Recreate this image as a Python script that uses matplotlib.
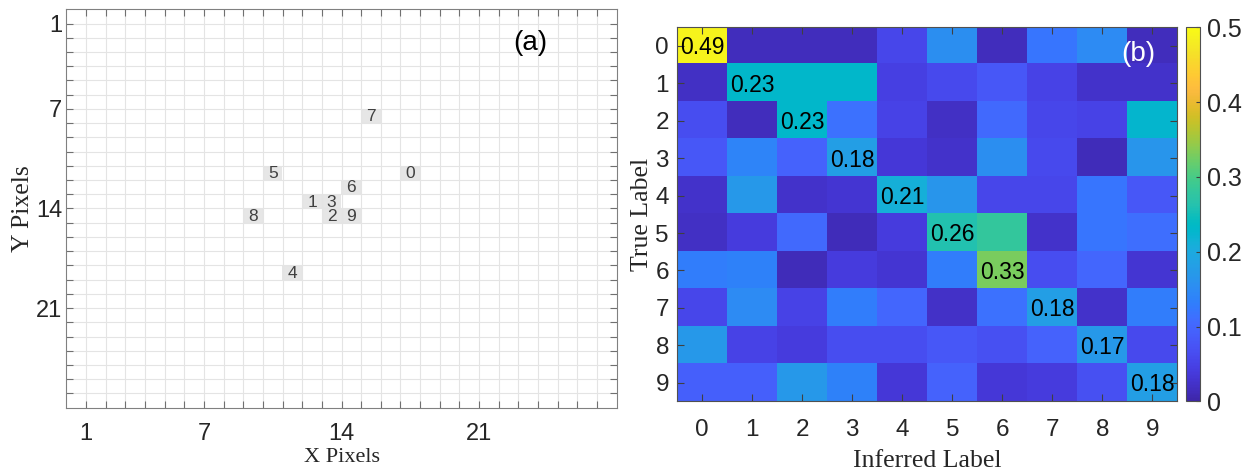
import numpy as np
import matplotlib
matplotlib.use('Agg')
import matplotlib.pyplot as plt
from matplotlib.colors import LinearSegmentedColormap

plt.rcParams['font.family'] = ['Liberation Sans', 'DejaVu Sans']

# panel (a): where each digit's pixel sits on the 28x28 grid
digits = ['0', '1', '2', '3', '4', '5', '6', '7', '8', '9']
pix_x = [17, 12, 13, 13, 11, 10, 14, 15, 9, 14]
pix_y = [11, 13, 14, 13, 18, 11, 12, 7, 14, 14]
grid_size = 28
pix_ticks = [1, 7, 14, 21]

# panel (b): confusion matrix, rows = true label, cols = inferred label
class_labels = ['0', '1', '2', '3', '4', '5', '6', '7', '8', '9']
row0 = [0.49, 0.015, 0.015, 0.015, 0.055, 0.155, 0.015, 0.12, 0.15, 0.015]
row1 = [0.02, 0.23, 0.23, 0.23, 0.045, 0.06, 0.08, 0.05, 0.025, 0.025]
row2 = [0.065, 0.015, 0.23, 0.115, 0.05, 0.02, 0.105, 0.055, 0.05, 0.225]
row3 = [0.08, 0.14, 0.095, 0.18, 0.035, 0.025, 0.155, 0.06, 0.012, 0.165]
row4 = [0.025, 0.17, 0.025, 0.03, 0.21, 0.165, 0.055, 0.055, 0.12, 0.08]
row5 = [0.02, 0.04, 0.105, 0.012, 0.04, 0.26, 0.28, 0.025, 0.12, 0.11]
row6 = [0.13, 0.135, 0.012, 0.04, 0.03, 0.13, 0.33, 0.065, 0.1, 0.03]
row7 = [0.055, 0.15, 0.05, 0.13, 0.1, 0.022, 0.115, 0.18, 0.025, 0.13]
row8 = [0.17, 0.05, 0.04, 0.065, 0.065, 0.08, 0.07, 0.095, 0.17, 0.06]
row9 = [0.09, 0.09, 0.17, 0.135, 0.035, 0.095, 0.035, 0.04, 0.07, 0.18]
diag_text = ['0.49', '0.23', '0.23', '0.18', '0.21', '0.26', '0.33', '0.18', '0.17', '0.18']
cbar_ticks = [0, 0.1, 0.2, 0.3, 0.4, 0.5]
cbar_labels = ['0', '0.1', '0.2', '0.3', '0.4', '0.5']

conf = np.array([row0, row1, row2, row3, row4, row5, row6, row7, row8, row9])

# matlab parula (64 steps)
parula_rgb = [
    (0.2422, 0.1504, 0.6603), (0.2504, 0.1650, 0.7076), (0.2578, 0.1818, 0.7511),
    (0.2647, 0.1978, 0.7952), (0.2706, 0.2147, 0.8364), (0.2751, 0.2342, 0.8710),
    (0.2783, 0.2559, 0.8991), (0.2803, 0.2782, 0.9221), (0.2813, 0.3006, 0.9414),
    (0.2810, 0.3228, 0.9579), (0.2795, 0.3447, 0.9717), (0.2760, 0.3667, 0.9829),
    (0.2699, 0.3892, 0.9906), (0.2602, 0.4123, 0.9952), (0.2440, 0.4358, 0.9988),
    (0.2206, 0.4603, 0.9973), (0.1963, 0.4847, 0.9892), (0.1834, 0.5074, 0.9798),
    (0.1786, 0.5289, 0.9682), (0.1764, 0.5499, 0.9520), (0.1687, 0.5703, 0.9359),
    (0.1540, 0.5902, 0.9218), (0.1460, 0.6091, 0.9079), (0.1380, 0.6276, 0.8973),
    (0.1248, 0.6459, 0.8883), (0.1113, 0.6635, 0.8763), (0.0952, 0.6798, 0.8598),
    (0.0689, 0.6948, 0.8394), (0.0297, 0.7082, 0.8163), (0.0036, 0.7203, 0.7917),
    (0.0067, 0.7312, 0.7660), (0.0433, 0.7411, 0.7394), (0.0964, 0.7500, 0.7120),
    (0.1408, 0.7584, 0.6842), (0.1717, 0.7670, 0.6554), (0.1938, 0.7758, 0.6251),
    (0.2161, 0.7843, 0.5923), (0.2470, 0.7918, 0.5567), (0.2906, 0.7973, 0.5188),
    (0.3406, 0.8008, 0.4789), (0.3909, 0.8029, 0.4354), (0.4456, 0.8024, 0.3909),
    (0.5044, 0.7993, 0.3480), (0.5616, 0.7942, 0.3045), (0.6174, 0.7876, 0.2612),
    (0.6720, 0.7793, 0.2227), (0.7242, 0.7698, 0.1910), (0.7738, 0.7598, 0.1646),
    (0.8203, 0.7498, 0.1535), (0.8634, 0.7406, 0.1596), (0.9035, 0.7330, 0.1774),
    (0.9393, 0.7288, 0.2100), (0.9728, 0.7298, 0.2394), (0.9956, 0.7434, 0.2371),
    (0.9970, 0.7659, 0.2199), (0.9952, 0.7893, 0.2028), (0.9892, 0.8136, 0.1885),
    (0.9786, 0.8386, 0.1766), (0.9676, 0.8639, 0.1643), (0.9610, 0.8890, 0.1537),
    (0.9597, 0.9135, 0.1423), (0.9628, 0.9373, 0.1265), (0.9691, 0.9606, 0.1064),
    (0.9769, 0.9839, 0.0805),
]
parula = LinearSegmentedColormap.from_list('parula', parula_rgb, N=256)

W, H = 1247, 473
fig = plt.figure(figsize=(W / 100, H / 100), dpi=100)


def px_axes(left, top, right, bottom):
    return fig.add_axes([left / W, 1 - bottom / H, (right - left) / W, (bottom - top) / H])


serif = ['Liberation Serif', 'DejaVu Serif']

# ---- (a) pixel map ----
ax1 = px_axes(66.3, 9.3, 616.7, 407.7)
canvas = np.ones((grid_size, grid_size))
for x, y in zip(pix_x, pix_y):
    canvas[y, x] = 0.9
ax1.imshow(canvas, cmap='gray', vmin=0, vmax=1, extent=(0, grid_size, grid_size, 0),
           aspect='auto', interpolation='nearest')
for d, x, y in zip(digits, pix_x, pix_y):
    ax1.text(x + 0.5, y + 0.55, d, ha='center', va='center', fontsize=12.5, color='#404040')

ax1.set_xlim(0, grid_size)
ax1.set_ylim(grid_size, 0)
ax1.set_xticks(pix_ticks)
ax1.set_yticks(pix_ticks)
ax1.set_xticks(range(1, grid_size), minor=True)
ax1.set_yticks(range(1, grid_size), minor=True)
ax1.grid(which='both', color='#e4e4e4', lw=0.8)
ax1.tick_params(which='both', direction='in', top=True, right=True, length=5,
                width=0.8, color='#707070')
ax1.tick_params(axis='x', labelsize=17, pad=11, labelcolor='#262626')
ax1.tick_params(axis='y', labelsize=17, pad=3, labelcolor='#262626')
for s in ax1.spines.values():
    s.set_color('#808080')
ax1.set_xlabel('X Pixels', family=serif, fontsize=16, color='#262626', labelpad=2)
ax1.set_ylabel('Y Pixels', family=serif, fontsize=18.5, color='#262626', labelpad=1)
ax1.text(23.6, 2.35, '(a)', ha='center', va='center', fontsize=20, color='black')

# ---- (b) confusion matrix ----
ax2 = px_axes(677.3, 27.3, 1177.3, 401.3)
im = ax2.imshow(conf, cmap=parula, vmin=0, vmax=0.5, aspect='auto', interpolation='nearest')
for i, t in enumerate(diag_text):
    ax2.text(i, i + 0.05, t, ha='center', va='center', fontsize=16.5, color='black')
ax2.set_xticks(range(len(class_labels)))
ax2.set_xticklabels(class_labels)
ax2.set_yticks(range(len(class_labels)))
ax2.set_yticklabels(class_labels)
ax2.tick_params(direction='in', top=True, right=True, length=5, width=0.8, color='#404040')
ax2.tick_params(axis='x', labelsize=17.5, pad=13, labelcolor='#262626')
ax2.tick_params(axis='y', labelsize=17.5, pad=6, labelcolor='#262626')
for s in ax2.spines.values():
    s.set_color('#505050')
ax2.set_xlabel('Inferred Label', family=serif, fontsize=18.5, color='#262626', labelpad=6)
ax2.set_ylabel('True Label', family=serif, fontsize=18.5, color='#262626', labelpad=2)
ax2.text(8.72, 0.22, '(b)', ha='center', va='center', fontsize=20, color='white')

cax = px_axes(1185.5, 27.3, 1200, 401.3)
cb = fig.colorbar(im, cax=cax, ticks=cbar_ticks)
cb.ax.set_yticklabels(cbar_labels)
cb.ax.tick_params(direction='in', length=3, width=0.8, color='#404040',
                  labelsize=18, pad=5, labelcolor='#262626')
cb.outline.set_edgecolor('#505050')

fig.savefig('out.png', dpi=100)
